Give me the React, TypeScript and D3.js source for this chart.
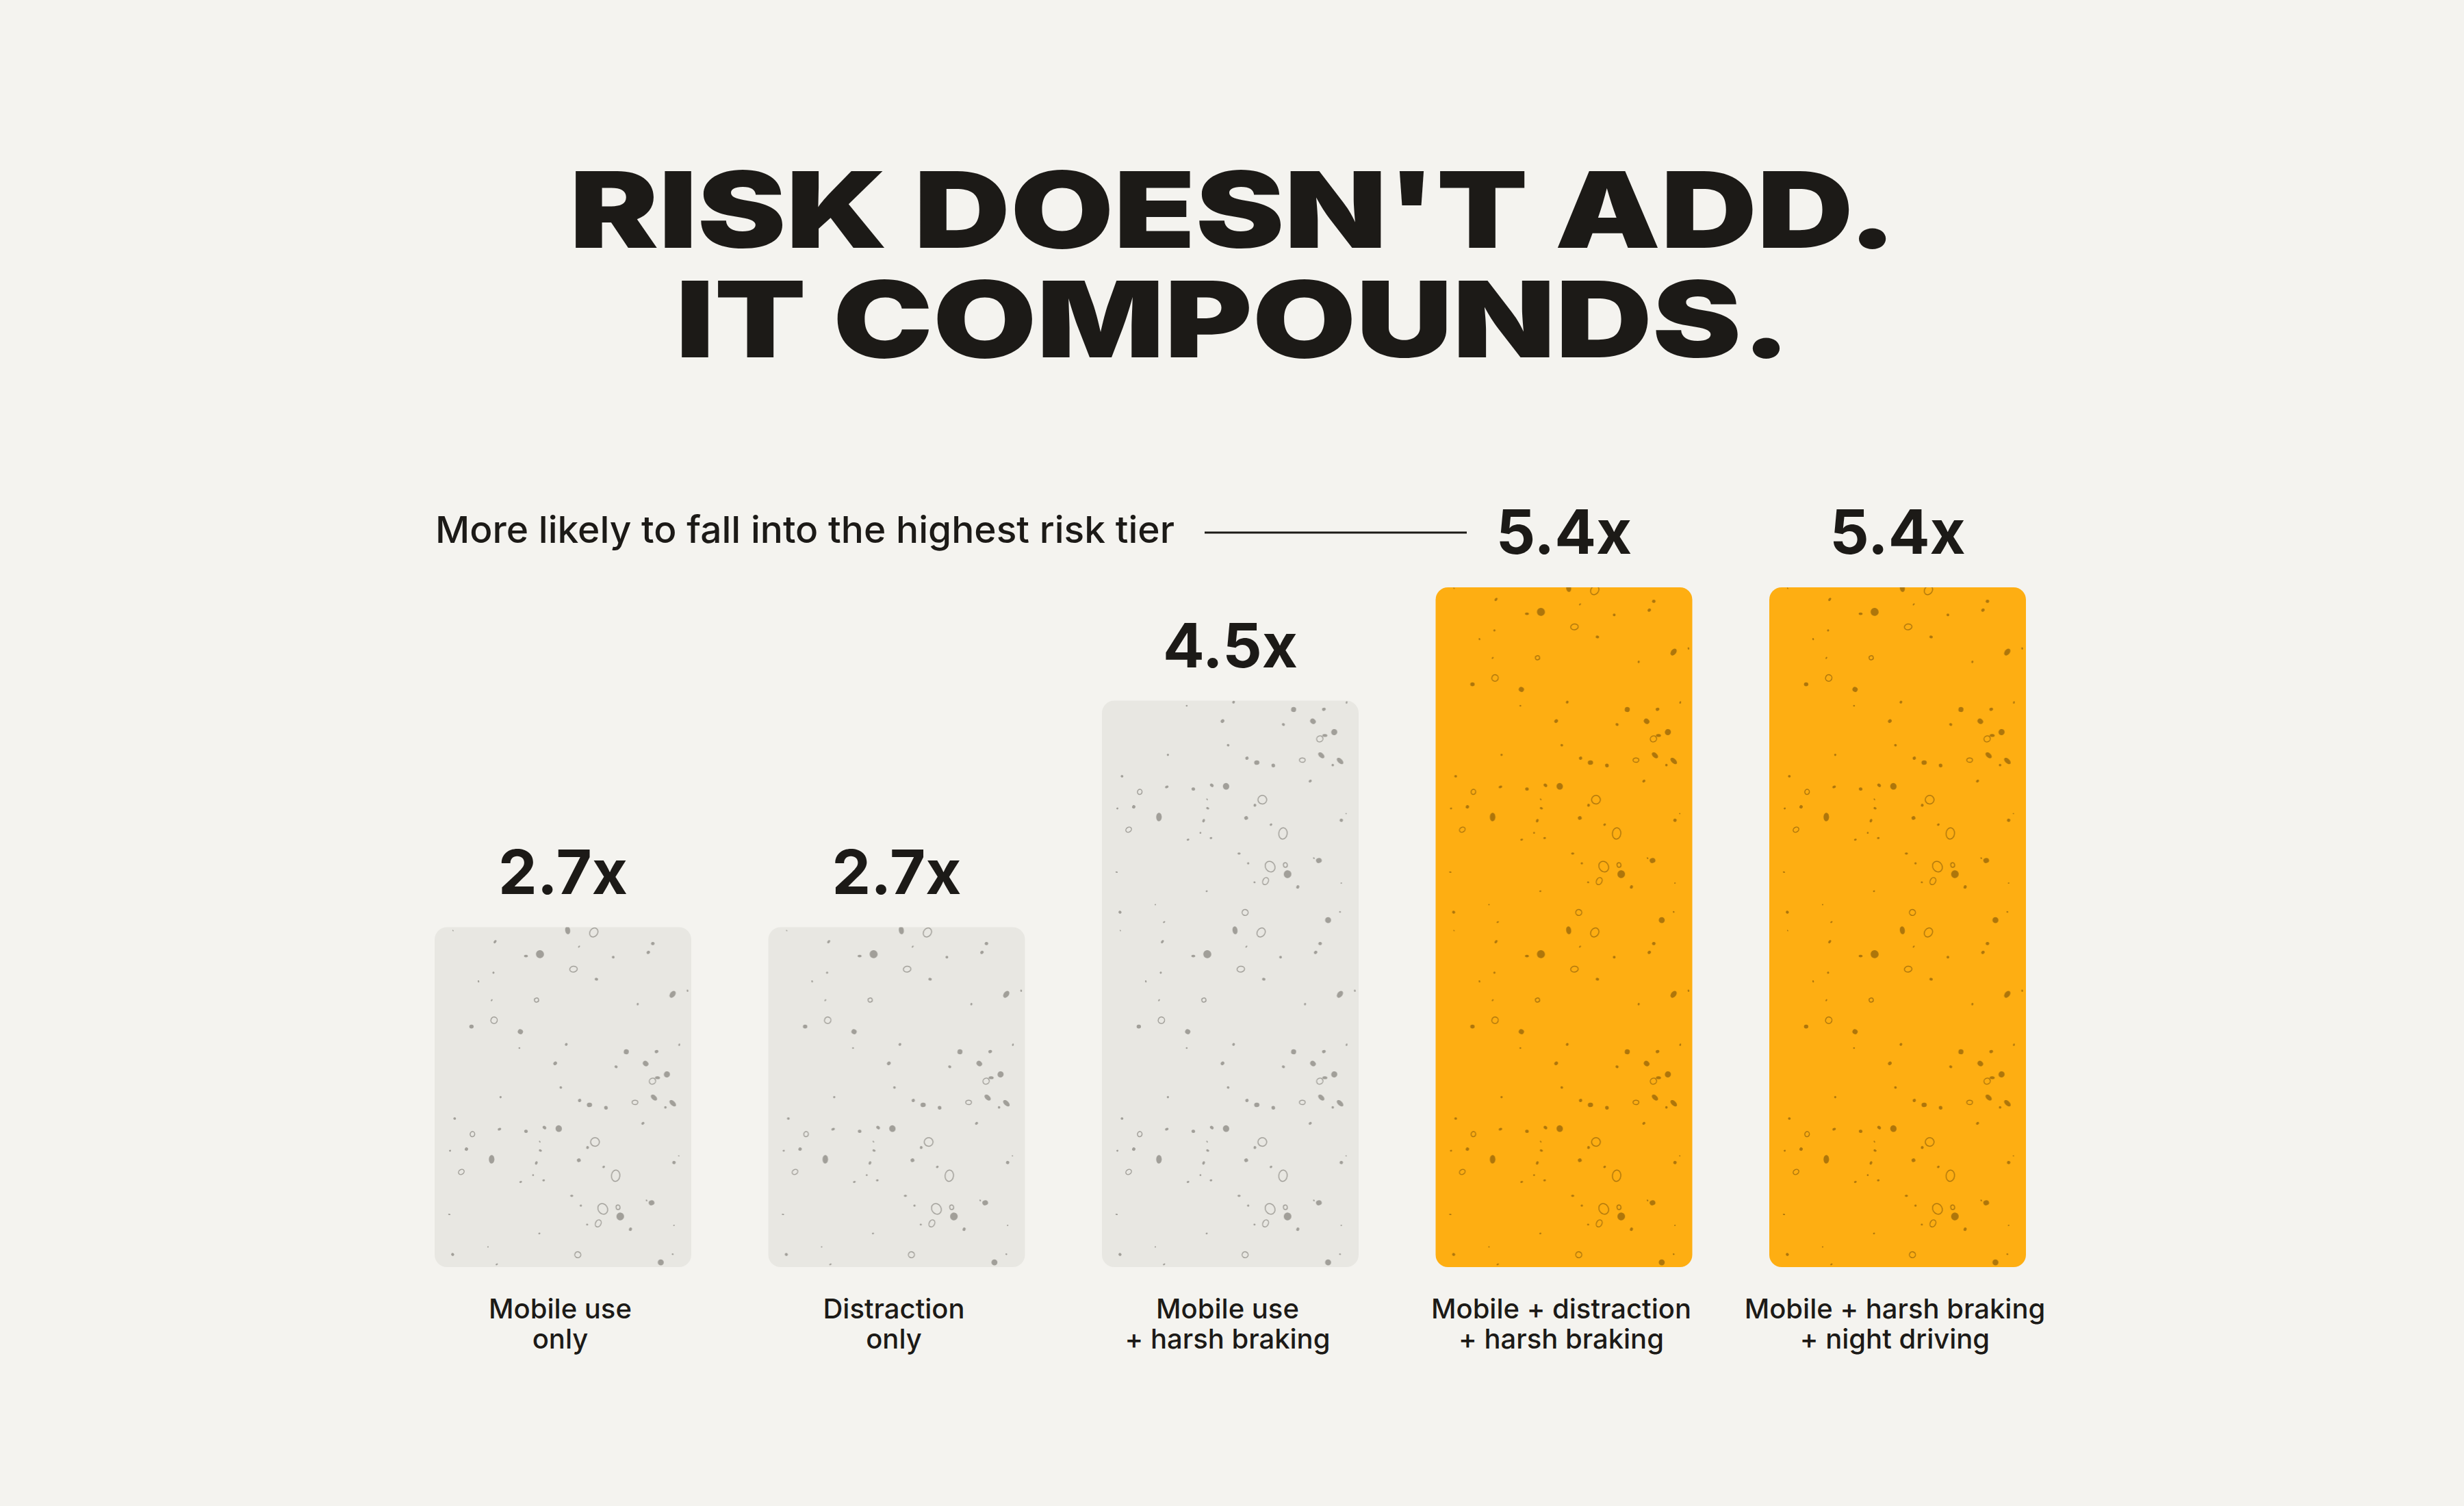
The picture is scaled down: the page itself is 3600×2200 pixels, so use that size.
import React, { useMemo } from 'react';
import * as d3 from 'd3';

const W = 3600;
const H = 2200;

const titleLines = ["RISK DOESN'T ADD.", 'IT COMPOUNDS.'];
const subtitle = 'More likely to fall into the highest risk tier';
const categoryIds = ['mobile', 'distraction', 'mobileBraking', 'mobileDistractionBraking', 'mobileBrakingNight'];
const labelLine1 = ['Mobile use', 'Distraction', 'Mobile use', 'Mobile + distraction', 'Mobile + harsh braking'];
const labelLine2 = ['only', 'only', '+ harsh braking', '+ harsh braking', '+ night driving'];
const values = [2.7, 2.7, 4.5, 5.4, 5.4];
const highlighted = [false, false, false, true, true];

const BG = '#F4F3EF';
const INK = '#1C1A17';
const GRAY = '#E8E7E2';
const ORANGE = '#FEAE12';
const FONT = 'Inter, "Noto Sans", sans-serif';

export default function App() {
  const x = d3.scaleBand<string>().domain(categoryIds).range([522.5, 3072.5]).padding(0.2308);
  const y = d3.scaleLinear().domain([0, 5.4]).range([1851, 858]);
  const bw = x.bandwidth();
  const step = x.step();

  // decorative speckle texture (seeded, not data)
  const specks = useMemo(() => {
    const rng = d3.randomLcg(0.4217);
    const out: { cx: number; cy: number; rx: number; ry: number; ring: boolean; rot: number }[] = [];
    for (let i = 0; i < 85; i++) {
      const big = rng() < 0.18;
      const r = big ? 3 + rng() * 4 : 1 + rng() * 2;
      out.push({
        cx: 4 + rng() * (bw - 8),
        cy: 4 + rng() * 492,
        rx: r,
        ry: r * (0.55 + rng() * 0.6),
        ring: rng() < 0.18,
        rot: rng() * 180,
      });
    }
    return out;
  }, [bw]);

  const pattern = (id: string, color: string) => (
    <pattern id={id} patternUnits="userSpaceOnUse" x={x(categoryIds[0])} y={y(0)} width={step} height={500}>
      {specks.map((s, i) => (
        <ellipse
          key={i}
          cx={s.cx}
          cy={s.cy}
          rx={s.ring ? s.rx + 2 : s.rx}
          ry={s.ring ? s.ry + 2 : s.ry}
          transform={`rotate(${s.rot} ${s.cx} ${s.cy})`}
          fill={s.ring ? 'none' : color}
          stroke={s.ring ? color : 'none'}
          strokeWidth={s.ring ? 1.5 : 0}
        />
      ))}
    </pattern>
  );

  return (
    <svg width={W} height={H} style={{ position: 'absolute', left: 0, top: 0, display: 'block' }}>
      <defs>
        {pattern('speckGray', '#A19F99')}
        {pattern('speckOrange', '#AE760B')}
      </defs>
      <rect x={0} y={0} width={W} height={H} fill={BG} />

      {/* Title */}
      <g fontFamily={FONT} fontWeight={900} fill={INK} textAnchor="middle">
        <text x={1802} y={362} fontSize={154} textLength={1940} lengthAdjust="spacingAndGlyphs">
          {titleLines[0]}
        </text>
        <text x={1802} y={522} fontSize={154} textLength={1630} lengthAdjust="spacingAndGlyphs">
          {titleLines[1]}
        </text>
      </g>

      {/* Subtitle with leader line */}
      <text x={636} y={793} fontFamily={FONT} fontWeight={500} fontSize={54} fill={INK} textLength={1080} lengthAdjust="spacingAndGlyphs">
        {subtitle}
      </text>
      <line x1={1760} x2={2143} y1={778} y2={778} stroke={INK} strokeWidth={3} />

      {/* Bars */}
      {categoryIds.map((id, i) => {
        const x0 = x(id)!;
        const top = y(values[i]);
        const h = y(0) - top;
        const fill = highlighted[i] ? ORANGE : GRAY;
        const tex = highlighted[i] ? 'url(#speckOrange)' : 'url(#speckGray)';
        return (
          <g key={id}>
            <rect x={x0} y={top} width={bw} height={h} rx={18} ry={18} fill={fill} />
            <rect x={x0} y={top} width={bw} height={h} rx={18} ry={18} fill={tex} />
            <text
              x={x0 + bw / 2}
              y={top - 49}
              textAnchor="middle"
              fontFamily={FONT}
              fontWeight={700}
              fontSize={90}
              fill={INK}
            >
              {`${values[i].toFixed(1)}x`}
            </text>
            <text x={x0 + bw / 2 - 4} textAnchor="middle" fontFamily={FONT} fontWeight={500} fontSize={40} fill={INK}>
              <tspan x={x0 + bw / 2 - 4} y={y(0) + 75}>{labelLine1[i]}</tspan>
              <tspan x={x0 + bw / 2 - 4} y={y(0) + 119}>{labelLine2[i]}</tspan>
            </text>
          </g>
        );
      })}
    </svg>
  );
}
